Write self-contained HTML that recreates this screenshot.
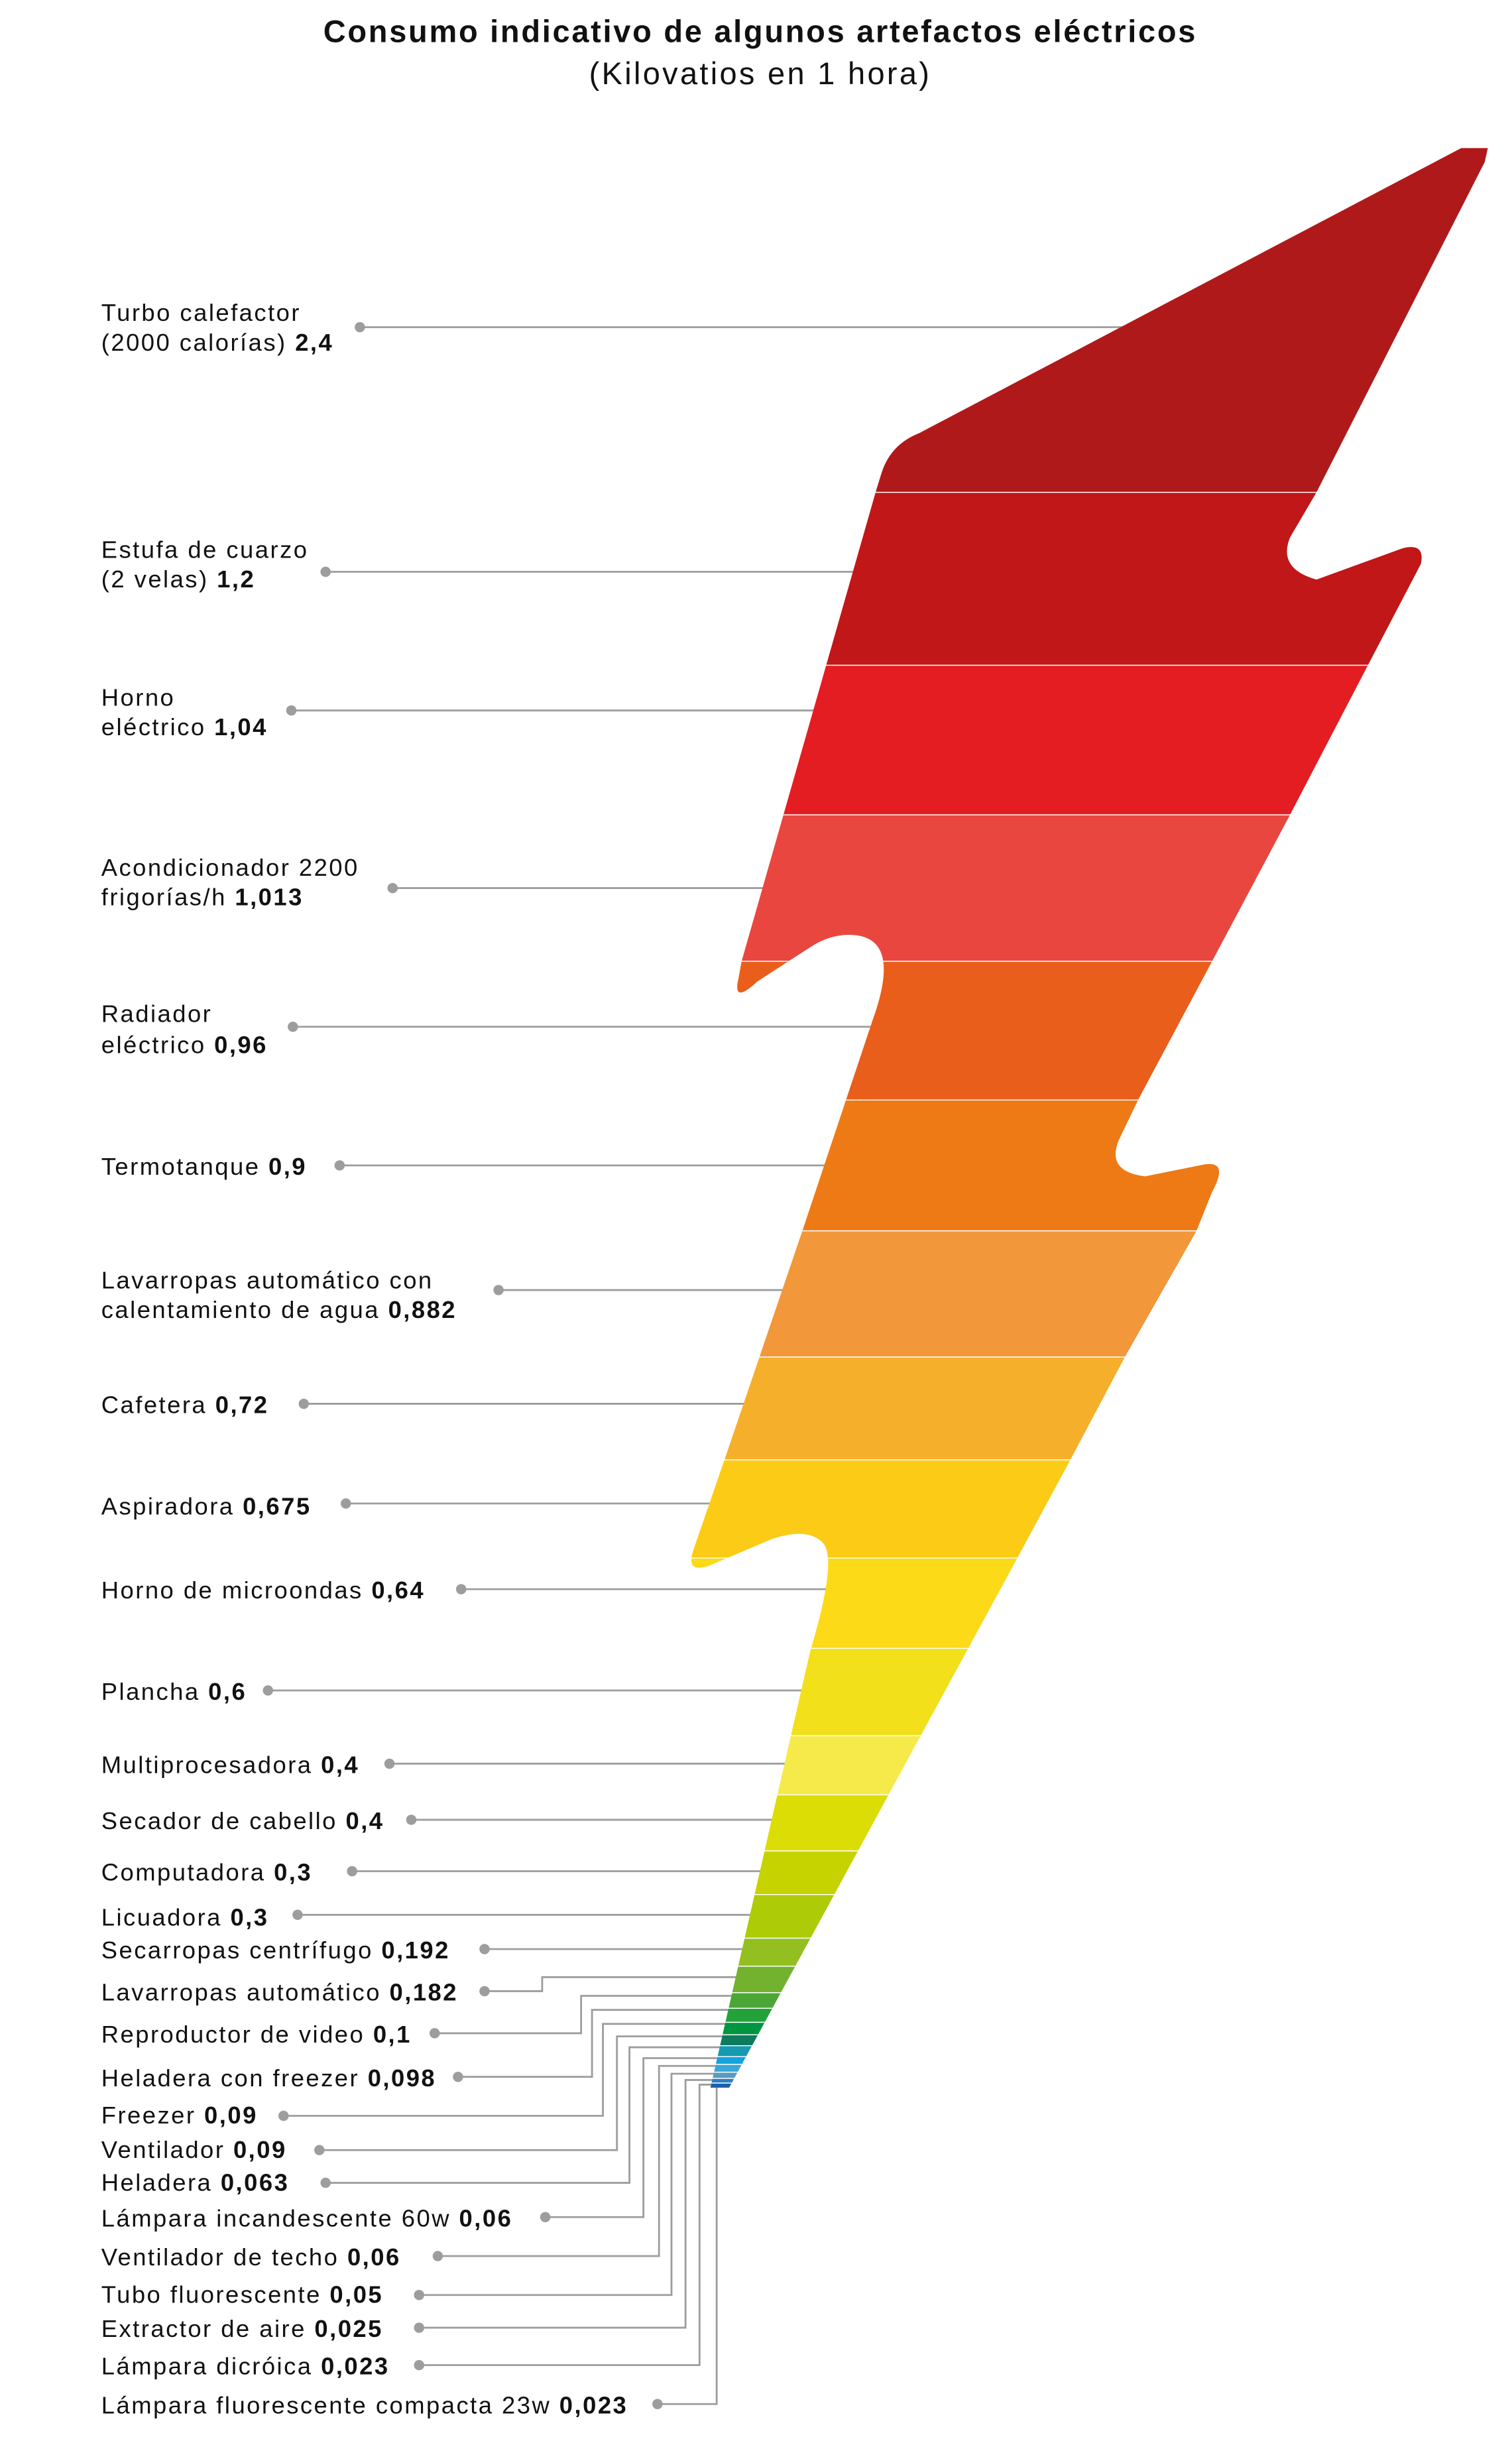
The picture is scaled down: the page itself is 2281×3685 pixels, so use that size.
<!DOCTYPE html>
<html><head><meta charset="utf-8"><style>
html,body{margin:0;padding:0;background:#fff;}
svg{display:block;}
text{font-family:"Liberation Sans",sans-serif;fill:#111;}
.l{font-size:15.5px;letter-spacing:1.05px;}
.b{font-weight:bold;}
</style></head><body>
<svg width="2281" height="3685" viewBox="0 0 970.5 1568" preserveAspectRatio="none" xmlns="http://www.w3.org/2000/svg">
<rect width="971" height="1568" fill="#fff"/>
<text x="488" y="27" text-anchor="middle" font-size="20" font-weight="bold" letter-spacing="1.15">Consumo indicativo de algunos artefactos eléctricos</text>
<text x="488" y="54" text-anchor="middle" font-size="20" letter-spacing="1.4">(Kilovatios en 1 hora)</text>

<g stroke="#9d9d9d" stroke-width="1.2" fill="none">
<line x1="231" y1="210" x2="760" y2="210"/>
<line x1="209" y1="367" x2="600" y2="367"/>
<line x1="187" y1="456" x2="600" y2="456"/>
<line x1="252" y1="570" x2="560" y2="570"/>
<line x1="188" y1="659" x2="600" y2="659"/>
<line x1="218" y1="748" x2="580" y2="748"/>
<line x1="320" y1="828" x2="560" y2="828"/>
<line x1="195" y1="901" x2="540" y2="901"/>
<line x1="222" y1="965" x2="520" y2="965"/>
<line x1="296" y1="1020" x2="580" y2="1020"/>
<line x1="172" y1="1085" x2="560" y2="1085"/>
<line x1="250" y1="1132" x2="540" y2="1132"/>
<line x1="264" y1="1168" x2="530" y2="1168"/>
<line x1="226" y1="1201" x2="520" y2="1201"/>
<line x1="191" y1="1229" x2="500" y2="1229"/>
<line x1="311" y1="1251" x2="490" y2="1251"/>
<polyline points="311,1278 348,1278 348,1269 476,1269"/>
<polyline points="279,1305 373,1305 373,1281 473,1281"/>
<polyline points="294,1333 380,1333 380,1290 471,1290"/>
<polyline points="182,1358 387,1358 387,1299 468,1299"/>
<polyline points="205,1380 396,1380 396,1307 467,1307"/>
<polyline points="209,1401 404,1401 404,1314 465,1314"/>
<polyline points="350,1423 413,1423 413,1321 463,1321"/>
<polyline points="281,1448 423,1448 423,1326 462,1326"/>
<polyline points="269,1473 431,1473 431,1331 461,1331"/>
<polyline points="269,1494 440,1494 440,1335 460,1335"/>
<polyline points="269,1518 449,1518 449,1338 459,1338"/>
<polyline points="422,1543 460,1543 460,1335"/>
</g>
<g fill="#9d9d9d">
<circle cx="231" cy="210" r="3.3"/><circle cx="209" cy="367" r="3.3"/><circle cx="187" cy="456" r="3.3"/>
<circle cx="252" cy="570" r="3.3"/><circle cx="188" cy="659" r="3.3"/><circle cx="218" cy="748" r="3.3"/>
<circle cx="320" cy="828" r="3.3"/><circle cx="195" cy="901" r="3.3"/><circle cx="222" cy="965" r="3.3"/>
<circle cx="296" cy="1020" r="3.3"/><circle cx="172" cy="1085" r="3.3"/><circle cx="250" cy="1132" r="3.3"/>
<circle cx="264" cy="1168" r="3.3"/><circle cx="226" cy="1201" r="3.3"/><circle cx="191" cy="1229" r="3.3"/>
<circle cx="311" cy="1251" r="3.3"/><circle cx="311" cy="1278" r="3.3"/><circle cx="279" cy="1305" r="3.3"/>
<circle cx="294" cy="1333" r="3.3"/><circle cx="182" cy="1358" r="3.3"/><circle cx="205" cy="1380" r="3.3"/>
<circle cx="209" cy="1401" r="3.3"/><circle cx="350" cy="1423" r="3.3"/><circle cx="281" cy="1448" r="3.3"/>
<circle cx="269" cy="1473" r="3.3"/><circle cx="269" cy="1494" r="3.3"/><circle cx="269" cy="1518" r="3.3"/>
<circle cx="422" cy="1543" r="3.3"/>
</g>

<defs><clipPath id="bolt"><path d="M938,95 L955,95 L953,104 L845,316 L828,345 Q820,365 845,372 L900,352 Q915,348 912,362 L878,427 L828,523 L778,617 L731,705 L718,732 Q710,752 735,755 L770,748 Q790,743 778,765 L768,790 L722,871 L687,937 L653,1000 L468,1340 L456,1340 L520,1060 Q538,1000 528,990 Q518,980 495,988 L455,1005 Q440,1010 445,995 L465,937 L515,790 L560,655 Q580,600 545,600 Q532,600 520,608 L486,630 Q470,645 474,628 L476,617 L562,316 L566,303 Q572,285 590,278 Z"/></clipPath></defs>
<g clip-path="url(#bolt)" stroke="#fff" stroke-width="0.6">
<rect x="400" y="90" width="560" height="226" fill="#B0191A"/>
<rect x="400" y="316" width="560" height="111" fill="#C11718"/>
<rect x="400" y="427" width="560" height="96" fill="#E31D22"/>
<rect x="400" y="523" width="560" height="94" fill="#E9463F"/>
<rect x="400" y="617" width="560" height="89" fill="#EA5E1B"/>
<rect x="400" y="706" width="560" height="84" fill="#EE7A15"/>
<rect x="400" y="790" width="560" height="81" fill="#F2973A"/>
<rect x="400" y="871" width="560" height="66" fill="#F6AF2B"/>
<rect x="400" y="937" width="560" height="63" fill="#FCCB16"/>
<rect x="400" y="1000" width="560" height="58" fill="#FCDA17"/>
<rect x="400" y="1058" width="560" height="56" fill="#F1E01A"/>
<rect x="400" y="1114" width="560" height="38" fill="#F6EA4A"/>
<rect x="400" y="1152" width="560" height="36" fill="#DBDD05"/>
<rect x="400" y="1188" width="560" height="28" fill="#C6D300"/>
<rect x="400" y="1216" width="560" height="28" fill="#AECB07"/>
<rect x="400" y="1244" width="560" height="18" fill="#93C020"/>
<rect x="400" y="1262" width="560" height="17" fill="#72B22E"/>
<rect x="400" y="1279" width="560" height="10" fill="#4BA636"/>
<rect x="400" y="1289" width="560" height="9" fill="#23A23A"/>
<rect x="400" y="1298" width="560" height="8" fill="#00963F"/>
<rect x="400" y="1306" width="560" height="7" fill="#0F7B5E"/>
<rect x="400" y="1313" width="560" height="7" fill="#1699B1"/>
<rect x="400" y="1320" width="560" height="5" fill="#14A3DC"/>
<rect x="400" y="1325" width="560" height="5" fill="#3BA7D8"/>
<rect x="400" y="1330" width="560" height="4" fill="#5A9BBF"/>
<rect x="400" y="1334" width="560" height="3" fill="#2A7FC0"/>
<rect x="400" y="1337" width="560" height="4" fill="#1F5FA8"/>
</g>

<g>
<text x="65" y="206" class="l">Turbo calefactor</text>
<text x="65" y="225" class="l">(2000 calorías) <tspan class="b">2,4</tspan></text>
<text x="65" y="358" class="l">Estufa de cuarzo</text>
<text x="65" y="377" class="l">(2 velas) <tspan class="b">1,2</tspan></text>
<text x="65" y="453" class="l">Horno</text>
<text x="65" y="472" class="l">eléctrico <tspan class="b">1,04</tspan></text>
<text x="65" y="562" class="l">Acondicionador 2200</text>
<text x="65" y="581" class="l">frigorías/h <tspan class="b">1,013</tspan></text>
<text x="65" y="656" class="l">Radiador</text>
<text x="65" y="676" class="l">eléctrico <tspan class="b">0,96</tspan></text>
<text x="65" y="754" class="l">Termotanque <tspan class="b">0,9</tspan></text>
<text x="65" y="827" class="l">Lavarropas automático con</text>
<text x="65" y="846" class="l">calentamiento de agua  <tspan class="b">0,882</tspan></text>
<text x="65" y="907" class="l">Cafetera <tspan class="b">0,72</tspan></text>
<text x="65" y="972" class="l">Aspiradora <tspan class="b">0,675</tspan></text>
<text x="65" y="1026" class="l">Horno de microondas <tspan class="b">0,64</tspan></text>
<text x="65" y="1091" class="l">Plancha  <tspan class="b">0,6</tspan></text>
<text x="65" y="1138" class="l">Multiprocesadora <tspan class="b">0,4</tspan></text>
<text x="65" y="1174" class="l">Secador de cabello <tspan class="b">0,4</tspan></text>
<text x="65" y="1207" class="l">Computadora <tspan class="b">0,3</tspan></text>
<text x="65" y="1236" class="l">Licuadora <tspan class="b">0,3</tspan></text>
<text x="65" y="1257" class="l">Secarropas centrífugo <tspan class="b">0,192</tspan></text>
<text x="65" y="1284" class="l">Lavarropas automático  <tspan class="b">0,182</tspan></text>
<text x="65" y="1311" class="l">Reproductor de video <tspan class="b">0,1</tspan></text>
<text x="65" y="1339" class="l">Heladera con freezer <tspan class="b">0,098</tspan></text>
<text x="65" y="1363" class="l">Freezer <tspan class="b">0,09</tspan></text>
<text x="65" y="1385" class="l">Ventilador <tspan class="b">0,09</tspan></text>
<text x="65" y="1406" class="l">Heladera <tspan class="b">0,063</tspan></text>
<text x="65" y="1429" class="l">Lámpara incandescente 60w <tspan class="b">0,06</tspan></text>
<text x="65" y="1454" class="l">Ventilador de techo <tspan class="b">0,06</tspan></text>
<text x="65" y="1478" class="l">Tubo fluorescente <tspan class="b">0,05</tspan></text>
<text x="65" y="1500" class="l">Extractor de aire <tspan class="b">0,025</tspan></text>
<text x="65" y="1524" class="l">Lámpara dicróica <tspan class="b">0,023</tspan></text>
<text x="65" y="1549" class="l">Lámpara fluorescente compacta 23w <tspan class="b">0,023</tspan></text>
</g>
</svg>
</body></html>
